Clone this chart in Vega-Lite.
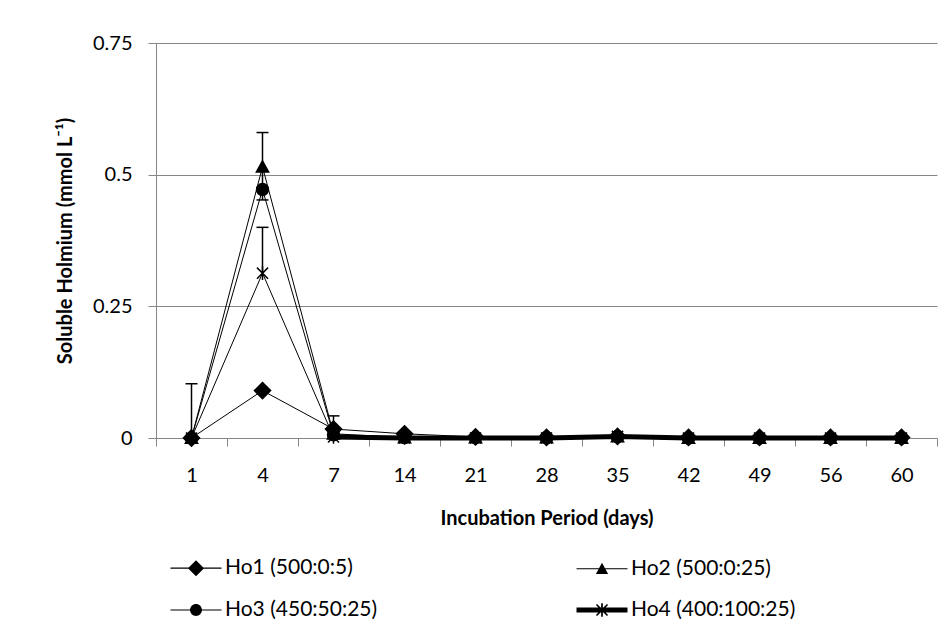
{
  "$schema": "https://vega.github.io/schema/vega-lite/v6.json",
  "padding": {"left": 55, "top": 33, "right": 5, "bottom": 5},
  "background": "white",
  "width": 781,
  "height": 395,
  "config": {"view": {"stroke": null}, "font": "Lato"},
  "datasets": {
    "main": [
      {"series": "Ho1 (500:0:5)", "day": 1, "value": 0},
      {"series": "Ho1 (500:0:5)", "day": 4, "value": 0.09},
      {"series": "Ho1 (500:0:5)", "day": 7, "value": 0.017},
      {"series": "Ho1 (500:0:5)", "day": 14, "value": 0.008},
      {"series": "Ho1 (500:0:5)", "day": 21, "value": 0.002},
      {"series": "Ho1 (500:0:5)", "day": 28, "value": 0.001},
      {"series": "Ho1 (500:0:5)", "day": 35, "value": 0.003},
      {"series": "Ho1 (500:0:5)", "day": 42, "value": 0.001},
      {"series": "Ho1 (500:0:5)", "day": 49, "value": 0.001},
      {"series": "Ho1 (500:0:5)", "day": 56, "value": 0.001},
      {"series": "Ho1 (500:0:5)", "day": 60, "value": 0.001},
      {"series": "Ho2 (500:0:25)", "day": 1, "value": 0},
      {"series": "Ho2 (500:0:25)", "day": 4, "value": 0.515},
      {"series": "Ho2 (500:0:25)", "day": 7, "value": 0.008},
      {"series": "Ho2 (500:0:25)", "day": 14, "value": 0.001},
      {"series": "Ho2 (500:0:25)", "day": 21, "value": 0.001},
      {"series": "Ho2 (500:0:25)", "day": 28, "value": 0.001},
      {"series": "Ho2 (500:0:25)", "day": 35, "value": 0.003},
      {"series": "Ho2 (500:0:25)", "day": 42, "value": 0},
      {"series": "Ho2 (500:0:25)", "day": 49, "value": 0},
      {"series": "Ho2 (500:0:25)", "day": 56, "value": 0},
      {"series": "Ho2 (500:0:25)", "day": 60, "value": 0},
      {"series": "Ho3 (450:50:25)", "day": 1, "value": 0},
      {"series": "Ho3 (450:50:25)", "day": 4, "value": 0.472},
      {"series": "Ho3 (450:50:25)", "day": 7, "value": 0.006},
      {"series": "Ho3 (450:50:25)", "day": 14, "value": 0.001},
      {"series": "Ho3 (450:50:25)", "day": 21, "value": 0.001},
      {"series": "Ho3 (450:50:25)", "day": 28, "value": 0.001},
      {"series": "Ho3 (450:50:25)", "day": 35, "value": 0.003},
      {"series": "Ho3 (450:50:25)", "day": 42, "value": 0},
      {"series": "Ho3 (450:50:25)", "day": 49, "value": 0},
      {"series": "Ho3 (450:50:25)", "day": 56, "value": 0},
      {"series": "Ho3 (450:50:25)", "day": 60, "value": 0},
      {"series": "Ho4 (400:100:25)", "day": 1, "value": 0},
      {"series": "Ho4 (400:100:25)", "day": 4, "value": 0.313},
      {"series": "Ho4 (400:100:25)", "day": 7, "value": 0.002},
      {"series": "Ho4 (400:100:25)", "day": 14, "value": 0},
      {"series": "Ho4 (400:100:25)", "day": 21, "value": 0},
      {"series": "Ho4 (400:100:25)", "day": 28, "value": 0},
      {"series": "Ho4 (400:100:25)", "day": 35, "value": 0.003},
      {"series": "Ho4 (400:100:25)", "day": 42, "value": 0},
      {"series": "Ho4 (400:100:25)", "day": 49, "value": 0},
      {"series": "Ho4 (400:100:25)", "day": 56, "value": 0},
      {"series": "Ho4 (400:100:25)", "day": 60, "value": 0}
    ],
    "err": [
      {"series": "Ho1 (500:0:5)", "day": 1, "lo": 0, "hi": 0.103},
      {"series": "Ho2 (500:0:25)", "day": 4, "lo": 0.452, "hi": 0.58},
      {"series": "Ho4 (400:100:25)", "day": 4, "lo": 0.313, "hi": 0.4},
      {"series": "Ho1 (500:0:5)", "day": 7, "lo": 0.017, "hi": 0.042}
    ]
  },
  "encoding": {
    "x": {
      "field": "day",
      "type": "ordinal",
      "scale": {"type": "band", "paddingInner": 0, "paddingOuter": 0},
      "axis": {
        "title": "Incubation Period (days)",
        "labelAngle": 0,
        "tickBand": "extent",
        "tickSize": 8,
        "tickColor": "#868686",
        "domainColor": "#868686",
        "labelFont": "Lato",
        "labelFontSize": 20,
        "labelColor": "black",
        "labelPadding": 19,
        "titleFont": "Lato",
        "titleFontSize": 20,
        "titleFontWeight": "bold",
        "titleColor": "black",
        "titlePadding": 23,
        "grid": false
      }
    }
  },
  "layer": [
    {
      "data": {"name": "main"},
      "mark": {"type": "line", "color": "black", "strokeWidth": 1},
      "encoding": {
        "y": {
          "field": "value",
          "type": "quantitative",
          "scale": {"domain": [0, 0.75], "nice": false},
          "axis": {
            "title": "Soluble Holmium (mmol L⁻¹)",
            "values": [0, 0.25, 0.5, 0.75],
            "format": ".2~f",
            "tickSize": 8,
            "tickColor": "#868686",
            "domainColor": "#868686",
            "gridColor": "#868686",
            "gridWidth": 1,
            "labelFont": "Lato",
            "labelFontSize": 20,
            "labelColor": "black",
            "labelPadding": 16,
            "titleFont": "Lato",
            "titleFontSize": 20,
            "titleFontWeight": "bold",
            "titleColor": "black",
            "titlePadding": 17
          }
        },
        "detail": {"field": "series", "type": "nominal"}
      }
    },
    {
      "data": {"name": "main"},
      "transform": [{"filter": "datum.series == 'Ho4 (400:100:25)' && datum.day >= 7"}],
      "mark": {"type": "line", "color": "black", "strokeWidth": 5},
      "encoding": {
        "y": {"field": "value", "type": "quantitative", "title": "Soluble Holmium (mmol L⁻¹)"}
      }
    },
    {
      "data": {"name": "main"},
      "mark": {"type": "point", "filled": true, "color": "black", "stroke": "black", "strokeWidth": 1.5, "size": 289, "opacity": 1},
      "encoding": {
        "y": {"field": "value", "type": "quantitative", "title": "Soluble Holmium (mmol L⁻¹)"},
        "shape": {
          "field": "series",
          "type": "nominal",
          "scale": {
            "domain": ["Ho1 (500:0:5)", "Ho2 (500:0:25)", "Ho3 (450:50:25)", "Ho4 (400:100:25)"],
            "range": [
              "M0,-0.95L0.95,0L0,0.95L-0.95,0Z",
              "M0,-0.7L0.72,0.62L-0.72,0.62Z",
              "M-0.7,0A0.7,0.7,0,1,1,0.7,0A0.7,0.7,0,1,1,-0.7,0Z",
              "M-0.65,-0.65L0.65,0.65M-0.65,0.65L0.65,-0.65M0,-0.8L0,0.8"
            ]
          },
          "legend": null
        }
      }
    },
    {
      "data": {"name": "err"},
      "mark": {"type": "rule", "color": "black", "strokeWidth": 1.5},
      "encoding": {
        "y": {"field": "lo", "type": "quantitative", "title": "Soluble Holmium (mmol L⁻¹)"},
        "y2": {"field": "hi"}
      }
    },
    {
      "data": {"name": "err"},
      "mark": {"type": "tick", "color": "black", "thickness": 1.5, "size": 12, "opacity": 1},
      "encoding": {
        "y": {"field": "hi", "type": "quantitative", "title": "Soluble Holmium (mmol L⁻¹)"}
      }
    },
    {
      "data": {"name": "err"},
      "transform": [{"filter": "datum.series == 'Ho2 (500:0:25)'"}],
      "mark": {"type": "tick", "color": "black", "thickness": 1.5, "size": 12, "opacity": 1},
      "encoding": {
        "y": {"field": "lo", "type": "quantitative", "title": "Soluble Holmium (mmol L⁻¹)"}
      }
    },
    {
      "data": {"name": "main"},
      "transform": [{"filter": "false"}],
      "mark": {"type": "point", "filled": true, "color": "black", "opacity": 1},
      "encoding": {
        "y": {"field": "value", "type": "quantitative", "title": "Soluble Holmium (mmol L⁻¹)"},
        "shape": {
          "field": "series",
          "type": "nominal",
          "scale": {
            "domain": ["Ho1 (500:0:5)", "Ho2 (500:0:25)", "Ho3 (450:50:25)", "Ho4 (400:100:25)"],
            "range": [
              "M-3,-0.07L3,-0.07L3,0.07L-3,0.07ZM0,-0.95L0.95,0L0,0.95L-0.95,0Z",
              "M-3,-0.07L3,-0.07L3,0.07L-3,0.07ZM0,-0.7L0.72,0.62L-0.72,0.62Z",
              "M-3,-0.07L3,-0.07L3,0.07L-3,0.07ZM-0.7,0A0.7,0.7,0,1,1,0.7,0A0.7,0.7,0,1,1,-0.7,0Z",
              "M-3,-0.3L3,-0.3L3,0.3L-3,0.3ZM-0.1,-0.8L0.1,-0.8L0.1,0.8L-0.1,0.8ZM-0.58,-0.72L0.72,0.58L0.58,0.72L-0.72,-0.58ZM-0.72,0.58L0.58,-0.72L0.72,-0.58L-0.58,0.72Z"
            ]
          },
          "legend": {
            "orient": "none",
            "legendX": 29.5,
            "legendY": 514.5,
            "columns": 2,
            "direction": "horizontal",
            "title": null,
            "padding": 0,
            "symbolSize": 289,
            "symbolFillColor": "black",
            "symbolOpacity": 1,
            "labelFont": "Lato",
            "labelFontSize": 21,
            "labelColor": "black",
            "labelLimit": 400,
            "labelOffset": 18.5,
            "columnPadding": 196,
            "rowPadding": 19
          }
        }
      }
    }
  ],
  "resolve": {"scale": {"shape": "independent"}, "legend": {"shape": "independent"}}
}
